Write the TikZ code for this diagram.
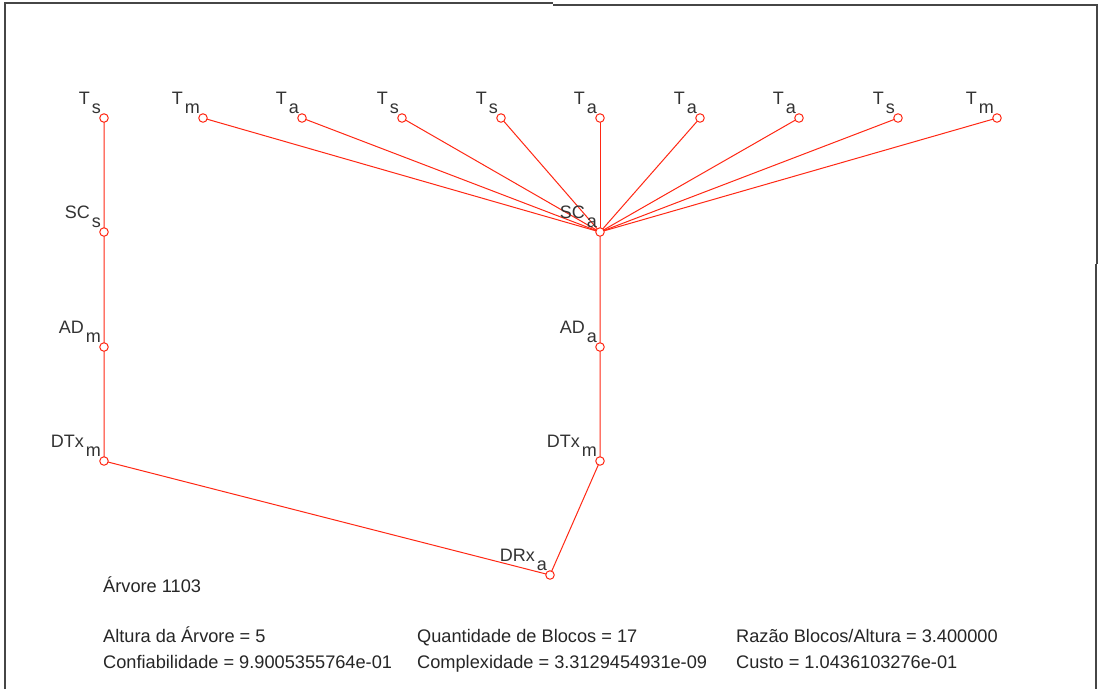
\documentclass[tikz,border=0pt]{standalone}
\usepackage{fontspec}
\setmainfont{Liberation Sans}
\definecolor{edgered}{RGB}{255,40,20}
\definecolor{framegray}{RGB}{70,70,70}
\tikzset{
  blk/.style={circle,draw=edgered,fill=white,line width=1pt,minimum size=8.5pt,inner sep=0pt},
  lbl/.style={anchor=base east,inner sep=0pt,font=\fontsize{18}{21}\selectfont,text=black!80},
  link/.style={draw=edgered,line width=1pt},
  info/.style={anchor=base west,inner sep=0pt,font=\fontsize{18.2}{21}\selectfont,text=black!85},
  frm/.style={draw=framegray,line width=1.8pt}
}
\newcommand{\lb}[2]{#1\hspace{2pt}\raisebox{-9.5pt}{#2}}
\begin{document}
\begin{tikzpicture}[x=1pt,y=-1pt]
\useasboundingbox (0,0) rectangle (1099,689);
\fill[white] (0,0) rectangle (1099,689);
% frame
\draw[frm] (5,689) -- (5,3) -- (553,3);
\draw[frm] (553,5) -- (1097,5) -- (1097,264);
\draw[frm] (1096,264) -- (1096,689);
% coordinates
\coordinate (t1) at (104,118);
\coordinate (t2) at (203,118);
\coordinate (t3) at (302,118);
\coordinate (t4) at (402,118);
\coordinate (t5) at (501,118);
\coordinate (t6) at (600,118);
\coordinate (t7) at (700,118);
\coordinate (t8) at (799,118);
\coordinate (t9) at (898,118);
\coordinate (t10) at (997,118);
\coordinate (scs) at (104,232);
\coordinate (sca) at (600,232);
\coordinate (adm) at (104,347);
\coordinate (ada) at (600,347);
\coordinate (dtl) at (104,461);
\coordinate (dtr) at (600,461);
\coordinate (drx) at (550,575);
% links
\draw[link] (t1) -- (scs) -- (adm) -- (dtl) -- (drx) -- (dtr) -- (ada) -- (sca);
\foreach \i in {2,...,10} { \draw[link] (sca) -- (t\i); }
% block markers
\foreach \n in {t1,t2,t3,t4,t5,t6,t7,t8,t9,t10,scs,sca,adm,ada,dtl,dtr,drx}
  { \node[blk] (\n-m) at (\n) {}; }
% labels
\node[lbl] (lt1) at ([shift={(-3,-14)}]t1) {\lb{T}{s}};
\node[lbl] (lt2) at ([shift={(-3,-14)}]t2) {\lb{T}{m}};
\node[lbl] (lt3) at ([shift={(-3,-14)}]t3) {\lb{T}{a}};
\node[lbl] (lt4) at ([shift={(-3,-14)}]t4) {\lb{T}{s}};
\node[lbl] (lt5) at ([shift={(-3,-14)}]t5) {\lb{T}{s}};
\node[lbl] (lt6) at ([shift={(-3,-14)}]t6) {\lb{T}{a}};
\node[lbl] (lt7) at ([shift={(-3,-14)}]t7) {\lb{T}{a}};
\node[lbl] (lt8) at ([shift={(-3,-14)}]t8) {\lb{T}{a}};
\node[lbl] (lt9) at ([shift={(-3,-14)}]t9) {\lb{T}{s}};
\node[lbl] (lt10) at ([shift={(-3,-14)}]t10) {\lb{T}{m}};
\node[lbl] (lscs) at ([shift={(-3,-14)}]scs) {\lb{SC}{s}};
\node[lbl] (lsca) at ([shift={(-3,-14)}]sca) {\lb{SC}{a}};
\node[lbl] (ladm) at ([shift={(-3,-14)}]adm) {\lb{AD}{m}};
\node[lbl] (lada) at ([shift={(-3,-14)}]ada) {\lb{AD}{a}};
\node[lbl] (ldtl) at ([shift={(-3,-14)}]dtl) {\lb{DTx}{m}};
\node[lbl] (ldtr) at ([shift={(-3,-14)}]dtr) {\lb{DTx}{m}};
\node[lbl] (ldrx) at ([shift={(-3,-14)}]drx) {\lb{DRx}{a}};
% info text
\node[info] (arv) at (103,592) {Árvore 1103};
\node[info] (alt) at (103,642) {Altura da Árvore = 5};
\node[info] (conf) at (103,668) {Confiabilidade = 9.9005355764e-01};
\node[info] (qtd) at (417,642) {Quantidade de Blocos = 17};
\node[info] (cpx) at (417,668) {Complexidade = 3.3129454931e-09};
\node[info] (raz) at (736,642) {Razão Blocos/Altura = 3.400000};
\node[info] (cst) at (736,668) {Custo = 1.0436103276e-01};
\end{tikzpicture}
\end{document}
